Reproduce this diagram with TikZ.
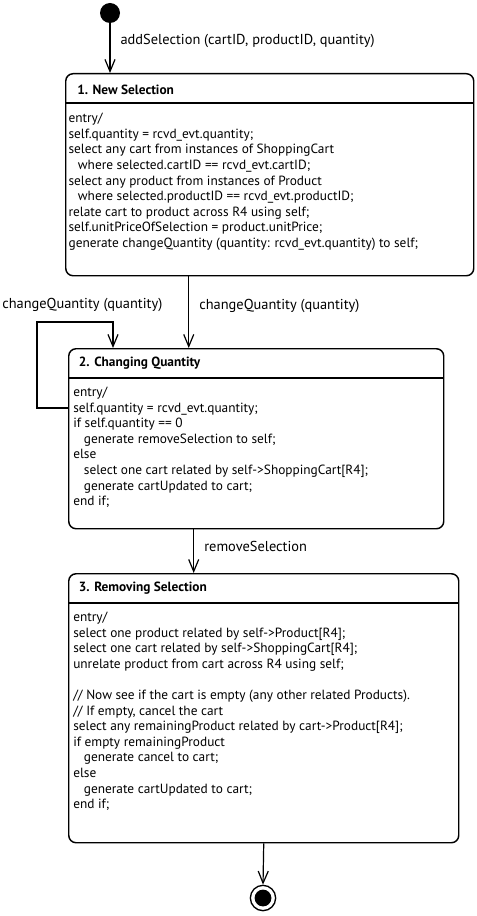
\documentclass[tikz,border=0pt]{standalone}
\usepackage{fontspec}
\setmainfont{PT Sans}
\usetikzlibrary{arrows.meta, positioning}

\begin{document}
\begin{tikzpicture}[
  x=0.75pt, y=-0.75pt,
  state/.style={draw, line width=1.1pt, rounded corners=5.5pt, anchor=north west, inner sep=0pt},
  title/.style={anchor=west, inner sep=0pt, font=\bfseries\fontsize{10pt}{12pt}\selectfont},
  body/.style={anchor=north west, inner sep=0pt, align=left, font=\fontsize{10pt}{11.7pt}\selectfont},
  lbl/.style={anchor=west, inner sep=0pt, font=\fontsize{10.8pt}{12pt}\selectfont},
  trans/.style={-{Straight Barb[length=9pt, width=7.5pt]}, line width=0.9pt},
  initial/.style={circle, fill, minimum size=15pt, inner sep=0pt},
  final/.style={circle, draw, line width=1pt, minimum size=19pt, inner sep=0pt,
    path picture={\fill (path picture bounding box.center) circle (6.3pt);}}
]
\useasboundingbox (0,0) rectangle (477,916);

% states
\node[initial] (init) at (110,13) {};
\node[state, minimum width=306pt, minimum height=151.5pt] (s1) at (65,73) {};
\node[state, minimum width=281.25pt, minimum height=135pt] (s2) at (68,348) {};
\node[state, minimum width=292.5pt, minimum height=201.75pt] (s3) at (68,573) {};
\node[final] (fin) at (263,898) {};

% headers
\foreach \s in {s1,s2,s3}
  \draw[line width=1.1pt] ([yshift=-22.5pt]\s.north west) -- ([yshift=-22.5pt]\s.north east);
\node[title] (t1) at ([xshift=9pt, yshift=-12.5pt]s1.north west) {1. New Selection};
\node[title] (t2) at ([xshift=8pt, yshift=-11.5pt]s2.north west) {2. Changing Quantity};
\node[title] (t3) at ([xshift=8pt, yshift=-11pt]s3.north west) {3. Removing Selection};

% entry actions
\node[body] (b1) at ([xshift=2.5pt, yshift=-30pt]s1.north west) {entry/\\
self.quantity = rcvd\_evt.quantity;\\
select any cart from instances of ShoppingCart\\
\hspace*{7pt}where selected.cartID == rcvd\_evt.cartID;\\
select any product from instances of Product\\
\hspace*{7pt}where selected.productID == rcvd\_evt.productID;\\
relate cart to product across R4 using self;\\
self.unitPriceOfSelection = product.unitPrice;\\
generate changeQuantity (quantity: rcvd\_evt.quantity) to self;};
\node[body] (b2) at ([xshift=3.75pt, yshift=-29pt]s2.north west) {entry/\\
self.quantity = rcvd\_evt.quantity;\\
if self.quantity == 0\\
\hspace*{8pt}generate removeSelection to self;\\
else\\
\hspace*{8pt}select one cart related by self->ShoppingCart[R4];\\
\hspace*{8pt}generate cartUpdated to cart;\\
end if;};
\node[body] (b3) at ([xshift=3.75pt, yshift=-29pt]s3.north west) {entry/\\
select one product related by self->Product[R4];\\
select one cart related by self->ShoppingCart[R4];\\
unrelate product from cart across R4 using self;\\
\\
// Now see if the cart is empty (any other related Products).\\
// If empty, cancel the cart\\
select any remainingProduct related by cart->Product[R4];\\
if empty remainingProduct\\
\hspace*{8pt}generate cancel to cart;\\
else\\
\hspace*{8pt}generate cartUpdated to cart;\\
end if;};

% transitions
\coordinate (loop) at (37,322);
\draw[trans] (init) -- (init |- s1.north)
  node[lbl, pos=0.35, xshift=7.5pt] {addSelection (cartID, productID, quantity)};
\draw[trans] ([xshift=-60.75pt]s1.south) -- ([xshift=-60.75pt]s1.south |- s2.north)
  node[lbl, pos=0.41, xshift=7.5pt] {changeQuantity (quantity)};
\draw[trans] ([yshift=-45pt]s2.north west) -| (loop) -| ([xshift=33.75pt]s2.north west);
\node[lbl] (l22) at (2,305) {changeQuantity (quantity)};
\draw[trans] ([xshift=-46.9pt]s2.south) -- ([xshift=-46.9pt]s2.south |- s3.north)
  node[lbl, pos=0.4, xshift=7.5pt] {removeSelection};
\draw[trans] (s3.south) -- (fin.north);
\end{tikzpicture}
\end{document}
